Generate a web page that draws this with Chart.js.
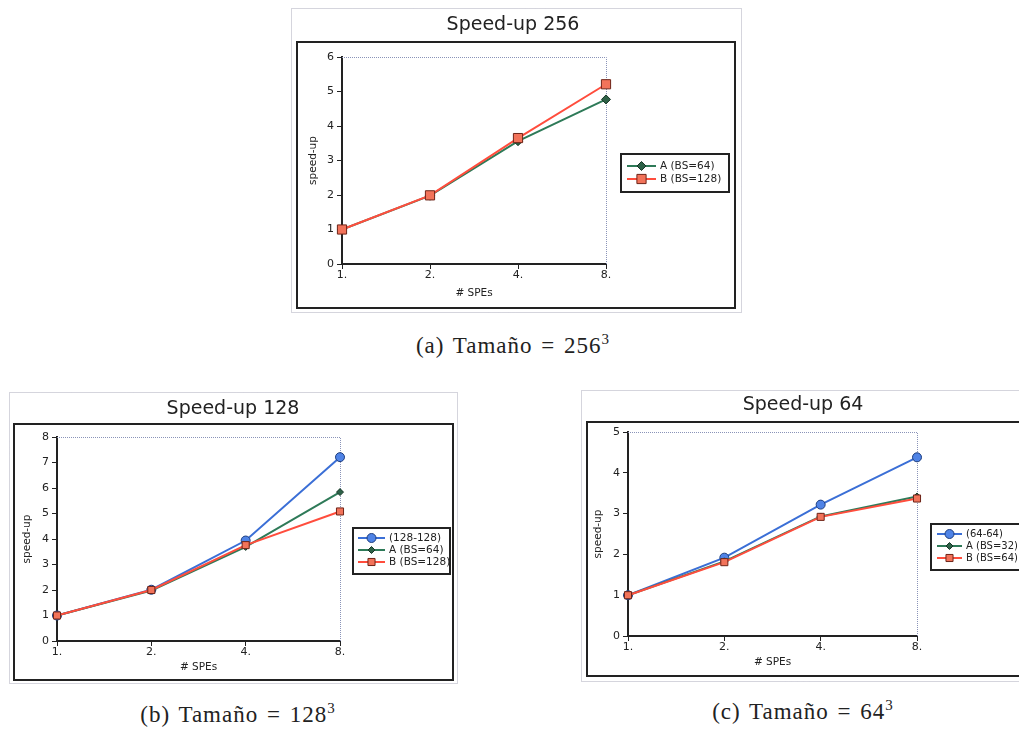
<!DOCTYPE html>
<html>
<head>
<meta charset="utf-8">
<script src="https://cdn.jsdelivr.net/npm/chart.js@4"></script>
<style>
  body { margin: 0; width: 1019px; height: 731px; overflow: hidden; background: #fff; position: relative; }
  .box { position: absolute; }
  .caption { position: absolute; font-family: 'Liberation Serif', serif; font-size: 23px; line-height: 26px;
             color: #222; text-align: center; width: 300px; letter-spacing: 1px; word-spacing: 2px; }
  .caption sup { font-size: 15px; vertical-align: 9px; line-height: 0; }
</style>
</head>
<body>
<div class="box" style="left:291px; top:8px;"><canvas id="c256" width="451" height="305"></canvas></div>
<div class="box" style="left:9px; top:392px;"><canvas id="c128" width="449" height="292"></canvas></div>
<div class="box" style="left:581px; top:390px;"><canvas id="c64" width="460" height="292"></canvas></div>

<div class="caption" style="left:363px; top:333px;">(a) Tamaño = 256<sup>3</sup></div>
<div class="caption" style="left:88px; top:702px;">(b) Tamaño = 128<sup>3</sup></div>
<div class="caption" style="left:653px; top:699px;">(c) Tamaño = 64<sup>3</sup></div>

<script>
// number of SPEs on the x axis
const spes = ['1.', '2.', '4.', '8.'];

// speed-up, size 256
const s256A = [1, 1.98, 3.56, 4.77];
const s256B = [1, 1.99, 3.65, 5.21];

// speed-up, size 128
const s128Base = [1, 2.01, 3.94, 7.21];
const s128A = [1, 1.98, 3.69, 5.84];
const s128B = [1, 2.0, 3.76, 5.08];

// speed-up, size 64
const s64Base = [1, 1.92, 3.22, 4.38];
const s64A = [1, 1.83, 2.93, 3.42];
const s64B = [1, 1.81, 2.92, 3.37];

const FONT = 'DejaVu Sans';
const DARK = '#222';

function blue(label, data, r) {
    return {label, data, borderColor: '#3b6fd6', pointBackgroundColor: '#4f83e6', pointBorderColor: '#1f3f7f',
            pointStyle: 'circle', pointRadius: r, order: 2};
}
function green(label, data, r) {
    return {label, data, borderColor: '#2e7a58', pointBackgroundColor: '#2d6147', pointBorderColor: '#173626',
            pointStyle: 'rectRot', pointRadius: r, order: 1};
}
function red(label, data, r) {
    return {label, data, borderColor: '#ff4d3d', pointBackgroundColor: '#f2735a', pointBorderColor: '#6e2418',
            pointStyle: 'rect', pointRadius: r, order: 0};
}

// frame, title, dotted plot border and boxed legend
const framePlugin = {
    id: 'frame',
    beforeDraw(chart, args, o) {
        const ctx = chart.ctx;
        const W = chart.width, H = chart.height;
        ctx.save();
        ctx.fillStyle = '#fff';
        ctx.fillRect(0, 0, W, H);
        ctx.strokeStyle = '#aab';
        ctx.lineWidth = 1;
        ctx.setLineDash([1, 1]);
        ctx.strokeRect(0.5, 0.5, W - 1, H - 1);
        ctx.setLineDash([]);
        ctx.strokeStyle = DARK;
        ctx.lineWidth = 2;
        ctx.strokeRect(o.inner[0], o.inner[1], o.inner[2] - o.inner[0], o.inner[3] - o.inner[1]);
        ctx.fillStyle = DARK;
        ctx.font = '19px ' + FONT;
        ctx.textAlign = 'center';
        ctx.textBaseline = 'middle';
        ctx.fillText(o.title, o.titleX, o.titleY);
        ctx.restore();
    },
    beforeDatasetsDraw(chart) {
        const ctx = chart.ctx;
        const a = chart.chartArea;
        ctx.save();
        ctx.strokeStyle = '#8a93b8';
        ctx.lineWidth = 1;
        ctx.setLineDash([1, 1]);
        ctx.beginPath();
        ctx.moveTo(a.left, a.top + 0.5);
        ctx.lineTo(a.right + 0.5, a.top + 0.5);
        ctx.lineTo(a.right + 0.5, a.bottom);
        ctx.stroke();
        ctx.restore();
    },
    afterDraw(chart, args, o) {
        const ctx = chart.ctx;
        const L = o.legend;
        ctx.save();
        ctx.fillStyle = '#fff';
        ctx.strokeStyle = DARK;
        ctx.lineWidth = 2;
        ctx.fillRect(L.box[0], L.box[1], L.box[2] - L.box[0], L.box[3] - L.box[1]);
        ctx.strokeRect(L.box[0], L.box[1], L.box[2] - L.box[0], L.box[3] - L.box[1]);
        ctx.font = L.size + 'px ' + FONT;
        ctx.textBaseline = 'middle';
        chart.data.datasets.forEach((ds, i) => {
            const y = L.y0 + i * L.dy;
            ctx.strokeStyle = ds.borderColor;
            ctx.lineWidth = 2;
            ctx.beginPath();
            ctx.moveTo(L.x0, y);
            ctx.lineTo(L.x1, y);
            ctx.stroke();
            ctx.fillStyle = ds.pointBackgroundColor;
            ctx.strokeStyle = ds.pointBorderColor;
            ctx.lineWidth = 1;
            Chart.helpers.drawPoint(ctx, {pointStyle: ds.pointStyle, radius: ds.pointRadius, rotation: 0, borderWidth: 1},
                (L.x0 + L.x1) / 2, y);
            ctx.fillStyle = DARK;
            ctx.fillText(ds.label, L.tx, y);
        });
        ctx.restore();
    }
};

function speedChart(id, datasets, cfg) {
    const ctx = document.getElementById(id).getContext('2d');
    return new Chart(ctx, {
        type: 'line',
        data: {labels: spes, datasets},
        options: {
            responsive: false,
            animation: false,
            layout: {padding: cfg.padding},
            elements: {
                line: {borderWidth: 2, tension: 0},
                point: {borderWidth: 1}
            },
            plugins: {
                legend: {display: false},
                tooltip: {enabled: false},
                frame: cfg.frame
            },
            scales: {
                x: {
                    type: 'category',
                    offset: false,
                    grid: {drawOnChartArea: false, drawTicks: true, tickLength: 5, color: DARK},
                    border: {color: DARK, width: 2},
                    ticks: {color: DARK, font: {family: FONT, size: 11}, padding: 0, maxRotation: 0},
                    title: {display: true, text: '# SPEs', color: DARK, font: {family: FONT, size: 10.5},
                            padding: {top: 2, bottom: 4}},
                    afterFit: s => { s.height = cfg.xh; }
                },
                y: {
                    min: 0,
                    max: cfg.ymax,
                    grid: {drawOnChartArea: false, drawTicks: true, tickLength: 5, color: DARK},
                    border: {color: DARK, width: 2},
                    ticks: {stepSize: 1, color: DARK, font: {family: FONT, size: 11}, padding: 3},
                    title: {display: true, text: 'speed-up', color: DARK, font: {family: FONT, size: 10.5},
                            padding: {top: 2, bottom: 2}},
                    afterFit: s => { s.width = cfg.yw; }
                }
            }
        },
        plugins: [framePlugin]
    });
}

speedChart('c256', [green('A (BS=64)', s256A, 4.5), red('B (BS=128)', s256B, 6.5)], {
    ymax: 6, yw: 37, xh: 40,
    padding: {left: 14, top: 49, right: 136, bottom: 9},
    frame: {
        title: 'Speed-up 256', titleX: 222, titleY: 17,
        inner: [6, 34, 444, 300],
        legend: {box: [330, 146, 438, 184], y0: 158, dy: 13, x0: 336, x1: 365, tx: 369, size: 10.5}
    }
});

speedChart('c128', [blue('(128-128)', s128Base, 4.5), green('A (BS=64)', s128A, 3.5), red('B (BS=128)', s128B, 5)], {
    ymax: 8, yw: 38, xh: 37,
    padding: {left: 10, top: 45, right: 118, bottom: 6},
    frame: {
        title: 'Speed-up 128', titleX: 224, titleY: 17,
        inner: [5, 32, 444, 288],
        legend: {box: [344, 136, 441, 182], y0: 146, dy: 12, x0: 349, x1: 376, tx: 380, size: 10.5}
    }
});

speedChart('c64', [blue('(64-64)', s64Base, 4.5), green('A (BS=32)', s64A, 3.5), red('B (BS=64)', s64B, 5)], {
    ymax: 5, yw: 38, xh: 37,
    padding: {left: 9, top: 42, right: 124, bottom: 9},
    frame: {
        title: 'Speed-up 64', titleX: 222, titleY: 15,
        inner: [6, 32, 470, 286],
        legend: {box: [350, 134, 470, 180], y0: 144, dy: 12, x0: 356, x1: 381, tx: 385, size: 10}
    }
});
</script>
</body>
</html>
